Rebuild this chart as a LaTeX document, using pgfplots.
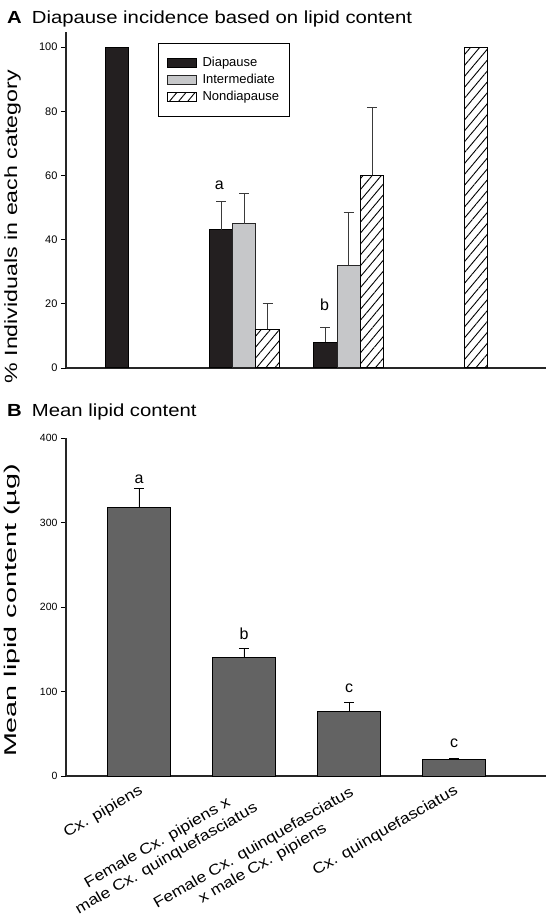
\documentclass[border=0pt]{standalone}
\usepackage{fontspec}
\setmainfont{Liberation Sans}
\usepackage{graphicx}
\usepackage{pgfplots}
\pgfplotsset{compat=1.18}
\usepackage{pgfplotstable}
\usetikzlibrary{patterns.meta}

\definecolor{diap}{HTML}{231F20}
\definecolor{inter}{HTML}{C6C7C9}
\definecolor{lipid}{HTML}{636363}
\definecolor{errc}{HTML}{3A3A3A}

\newcommand{\sx}[2]{\scalebox{#1}[1]{#2}}

% Panel A: groups 0..3 (Cx. pipiens, F pip x M quinq, F quinq x M pip, Cx. quinq)
\pgfplotstableread{
x y e
1 43 9
2 8 4.7
}\diapause
\pgfplotstableread{
x y
0 100
}\diapauseall
\pgfplotstableread{
x y e
1 45 9.3
2 32 16.4
}\intermediate
\pgfplotstableread{
x y e
1 12 8
2 60 21.2
}\nondiapause
\pgfplotstableread{
x y
3 100
}\nondiapauseall
% Panel B
\pgfplotstableread{
x y e
0 318 22
1 140 11
2 76 11
3 19.7 1
}\lipid

\pgfplotsset{
  legpatch/.style={legend image code/.code={\draw[##1, line width=0.9pt] (0pt,-4.5pt) rectangle (29pt,4.5pt);}},
  myerr/.style 2 args={error bars/.cd, y dir=plus, y explicit, error mark=|,
     error bar style={line width=0.8pt, draw=#1, fill=none, xshift=#2},
     error mark options={draw=#1, fill=none, line width=0.8pt, mark size=5pt, xshift=#2}},
}

\begin{document}
\begin{tikzpicture}[x=1pt,y=1pt]
% ---------------- Panel A ----------------
\node[anchor=base west, inner sep=0pt] at (7,900) {\sx{1.16}{\fontsize{17.5}{20}\selectfont\textbf{A}}\hspace{10pt}\sx{1.16}{\fontsize{17.5}{20}\selectfont Diapause incidence based on lipid content}};
\begin{axis}[
  at={(66pt,556pt)}, anchor=south west,
  scale only axis, width=480pt, height=336pt,
  xmin=-0.709, xmax=3.891, ymin=0, ymax=104.7,
  axis lines*=left,
  axis line style={line width=1.1pt, black!85},
  ytick={0,20,40,60,80,100},
  xtick=\empty,
  tick align=outside, major tick length=5pt,
  tick style={line width=0.8pt, black},
  yticklabel style={font=\fontsize{11}{12}\selectfont},
  /pgf/number format/assume math mode=true,
  ylabel={\sx{1.31}{\fontsize{17.7}{20}\selectfont \% Individuals in each category}},
  every axis y label/.style={at={(rel axis cs:-0.102,0.42)}, rotate=90, anchor=base},
  legend style={at={(rel axis cs:0.192,0.967)}, anchor=north west, draw=black, line width=0.9pt,
     font=\fontsize{13}{15}\selectfont, row sep=2pt, inner xsep=8pt, inner ysep=12pt,
     cells={anchor=west},
     /tikz/every odd column/.append style={column sep=4pt}},
  clip=false,
]
\addplot[ybar, bar width=23.3pt, bar shift=-23.3pt, fill=diap, draw=black, line width=1pt, legpatch,
   myerr={errc}{-23.3pt}] table[x=x, y=y, y error=e] {\diapause};
\addlegendentry{Diapause}
\addplot[ybar, bar width=23.3pt, bar shift=0pt, fill=inter, draw=black!85, line width=1pt, legpatch,
   myerr={errc}{0pt}] table[x=x, y=y, y error=e] {\intermediate};
\addlegendentry{Intermediate}
\addplot[ybar, bar width=23.3pt, bar shift=23.3pt, fill=white, draw=black, line width=1pt,
   postaction={pattern={Lines[angle=50, distance=7pt, line width=0.9pt]}, pattern color=black},
   legpatch, myerr={errc}{23.3pt}] table[x=x, y=y, y error=e] {\nondiapause};
\addlegendentry{Nondiapause}
\addplot[ybar, bar width=23.3pt, bar shift=-23.3pt, fill=diap, draw=black, line width=1pt, forget plot]
   table[x=x, y=y] {\diapauseall};
\addplot[ybar, bar width=23.3pt, bar shift=23.3pt, fill=white, draw=black, line width=1pt,
   postaction={pattern={Lines[angle=50, distance=7pt, line width=0.9pt]}, pattern color=black},
   forget plot] table[x=x, y=y] {\nondiapauseall};
\node[anchor=base, xshift=-25pt, font=\fontsize{16}{18}\selectfont] at (axis cs:1,55.7) {a};
\node[anchor=base, xshift=-24pt, font=\fontsize{16}{18}\selectfont] at (axis cs:2,17.9) {b};
\end{axis}

% ---------------- Panel B ----------------
\node[anchor=base west, inner sep=0pt] at (7,507) {\sx{1.16}{\fontsize{17.5}{20}\selectfont\textbf{B}}\hspace{10pt}\sx{1.16}{\fontsize{17.5}{20}\selectfont Mean lipid content}};
\begin{axis}[
  at={(66pt,148pt)}, anchor=south west,
  scale only axis, width=480pt, height=338pt,
  xmin=-0.695, xmax=3.876, ymin=0, ymax=400,
  axis lines*=left,
  axis line style={line width=1.1pt, black!85},
  ytick={0,100,200,300,400},
  xtick={0,1,2,3},
  xticklabels={
    {\sx{1.17}{Cx. pipiens}},
    {\sx{1.17}{\begin{tabular}{@{}c@{}}Female Cx. pipiens x\\male Cx. quinquefasciatus\end{tabular}}},
    {\sx{1.17}{\begin{tabular}{@{}c@{}}Female Cx. quinquefasciatus\\x male Cx. pipiens\end{tabular}}},
    {\sx{1.17}{Cx. quinquefasciatus}}},
  xticklabel style={rotate=30, anchor=north east, font=\fontsize{15}{18}\selectfont, inner sep=2pt},
  x tick style={draw=none},
  tick align=outside, major tick length=5pt,
  y tick style={line width=0.8pt, black},
  yticklabel style={font=\fontsize{10.5}{12}\selectfont},
  /pgf/number format/assume math mode=true,
  ylabel={\sx{1.69}{\fontsize{17}{20}\selectfont Mean lipid content (µg)}},
  every axis y label/.style={at={(rel axis cs:-0.1027,0.4896)}, rotate=90, anchor=base},
  clip=false,
]
\addplot[ybar, bar width=63pt, bar shift=0pt, fill=lipid, draw=black, line width=1pt,
   myerr={black}{0pt}] table[x=x, y=y, y error=e] {\lipid};
\node[anchor=base, font=\fontsize{16}{18}\selectfont] at (axis cs:0,346.4) {a};
\node[anchor=base, font=\fontsize{16}{18}\selectfont] at (axis cs:1,161.7) {b};
\node[anchor=base, font=\fontsize{16}{18}\selectfont] at (axis cs:2,98.6) {c};
\node[anchor=base, font=\fontsize{16}{18}\selectfont] at (axis cs:3,34) {c};
\end{axis}
\pgfresetboundingbox
\path[use as bounding box] (0,0) rectangle (546,924);
\end{tikzpicture}
\end{document}
